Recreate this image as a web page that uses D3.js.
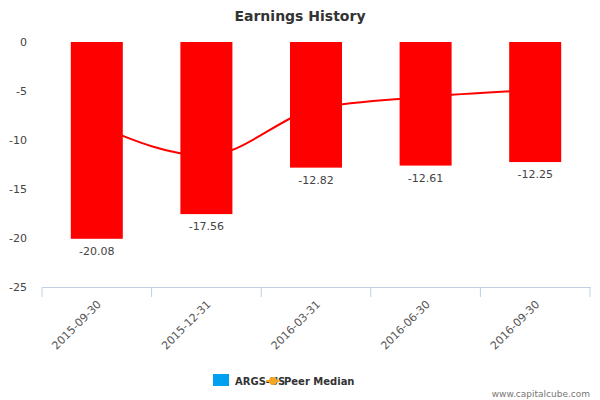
<!DOCTYPE html>
<html>
<head>
<meta charset="utf-8">
<script src="https://cdn.jsdelivr.net/npm/d3@7"></script>
<style>body{margin:0;background:#fff}</style>
</head>
<body>
<div id="container"></div>
<script>
let categories = ["2015-09-30", "2015-12-31", "2016-03-31", "2016-06-30", "2016-09-30"];
let earnings = [-20.08, -17.56, -12.82, -12.61, -12.25];
let peerMedian = [-8.5, -11.6, -6.8, -5.6, -4.9];
let yTicks = [0, -5, -10, -15, -20, -25];

let w = 600, h = 400;
let plotLeft = 42, plotRight = 590, plotTop = 42, plotBottom = 287;

let svg = d3.select("#container").append("svg")
  .attr("width", w).attr("height", h)
  .style("font-family", "'DejaVu Sans', sans-serif");

svg.append("text").attr("x", w / 2).attr("y", 21).attr("text-anchor", "middle")
  .attr("font-size", 14).attr("font-weight", "bold").attr("fill", "#333")
  .text("Earnings History");

let x = d3.scaleBand().domain(categories).range([plotLeft, plotRight]);
let y = d3.scaleLinear().domain([-25, 0]).range([plotBottom, plotTop]);

// y labels
svg.selectAll(".yl").data(yTicks).enter().append("text")
  .attr("x", 27).attr("y", d => y(d) + 4).attr("text-anchor", "end")
  .attr("font-size", 11).attr("fill", "#444").text(d => d);

// bars
let bw = 52;
svg.selectAll(".bar").data(earnings).enter().append("rect")
  .attr("x", (d, i) => x(categories[i]) + x.bandwidth() / 2 - bw / 2)
  .attr("y", y(0)).attr("width", bw)
  .attr("height", d => y(d) - y(0)).attr("fill", "#ff0000");

svg.selectAll(".bl").data(earnings).enter().append("text")
  .attr("x", (d, i) => x(categories[i]) + x.bandwidth() / 2)
  .attr("y", d => y(d) + 16).attr("text-anchor", "middle")
  .attr("font-size", 11).attr("fill", "#444").text(d => d.toFixed(2));

// peer median line
let line = d3.line()
  .x((d, i) => x(categories[i]) + x.bandwidth() / 2)
  .y(d => y(d)).curve(d3.curveMonotoneX);
svg.append("path").datum(peerMedian).attr("d", line)
  .attr("fill", "none").attr("stroke", "#ff0000").attr("stroke-width", 2);

// x axis
let ax = svg.append("g").attr("transform", `translate(0,${plotBottom})`)
  .call(d3.axisBottom(x).tickSize(0).tickFormat(""));
ax.select(".domain").attr("stroke", "#c0d0e0");
let edges = categories.map(c => x(c)).concat([plotRight]);
svg.selectAll(".tk").data(edges).enter().append("line")
  .attr("x1", d => d).attr("x2", d => d).attr("y1", plotBottom).attr("y2", plotBottom + 10)
  .attr("stroke", "#c0d0e0");
svg.selectAll(".xl").data(categories).enter().append("text")
  .attr("transform", d => `translate(${x(d) + x.bandwidth() / 2 + 5},${plotBottom + 18}) rotate(-45)`)
  .attr("text-anchor", "end").attr("font-size", 11).attr("fill", "#555").text(d => d);

// legend
svg.append("rect").attr("x", 213).attr("y", 374).attr("width", 16).attr("height", 12).attr("fill", "#00a0f0");
svg.append("text").attr("x", 235).attr("y", 385).attr("font-size", 10).attr("font-weight", "bold")
  .attr("fill", "#333").text("ARGS-US");
svg.append("line").attr("x1", 266).attr("x2", 280).attr("y1", 381).attr("y2", 381)
  .attr("stroke", "#f5a623").attr("stroke-width", 2);
svg.append("circle").attr("cx", 273).attr("cy", 381).attr("r", 4).attr("fill", "#f5a623");
svg.append("text").attr("x", 284).attr("y", 385).attr("font-size", 10).attr("font-weight", "bold")
  .attr("fill", "#333").text("Peer Median");

svg.append("text").attr("x", 590).attr("y", 397).attr("text-anchor", "end")
  .attr("font-size", 9).attr("fill", "#777").text("www.capitalcube.com");
</script>
</body>
</html>
